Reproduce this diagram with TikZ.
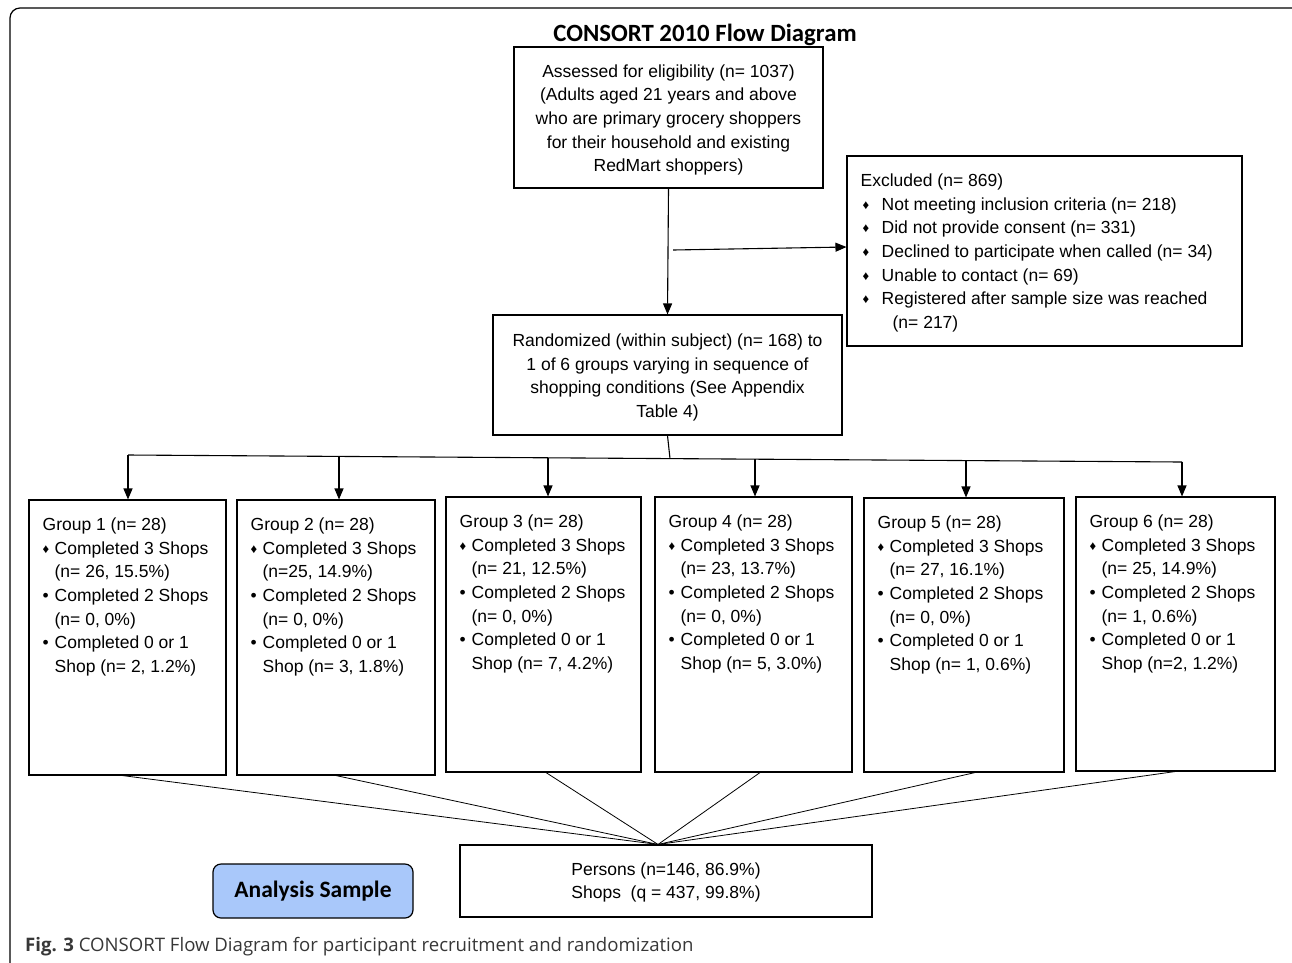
\documentclass[tikz,border=0pt]{standalone}
\usepackage{fontspec}
\setmainfont{Liberation Sans}
\newfontfamily\carlito{Carlito}
\newfontfamily\opensans{Open Sans}
\usetikzlibrary{arrows.meta,calc}
\newcommand\fs{\fontsize{17.5}{23.7}\selectfont}
\newcommand\dia{\makebox[12pt][l]{\raisebox{1pt}{\fontsize{13}{13}\selectfont ♦}}}
\newcommand\bul{\makebox[12pt][l]{•}}
\newcommand\ind{\hspace*{12pt}}
\newcommand\edia{\makebox[21pt][l]{\hspace{2pt}\raisebox{1pt}{\fontsize{13}{13}\selectfont ♦}}}
\tikzset{
  box/.style={draw, line width=1.1pt, inner sep=0pt, align=center, font=\fs},
  txt/.style={anchor=north west, inner sep=0pt, align=left, font=\fs},
  arr/.style={line width=1.1pt, -{Triangle[length=11pt,width=9pt]}},
  ln/.style={line width=1.1pt},
  thin/.style={line width=0.8pt}
}
\begin{document}
\begin{tikzpicture}[x=1pt,y=-1pt]
\useasboundingbox (0,0) rectangle (1292,962);
\clip (0,0) rectangle (1292,962);
% outer frame
\draw[line width=1.2pt, rounded corners=10pt] (10,8) rectangle (1312,985);
% title
\node[inner sep=0pt, font=\carlito\bfseries\fontsize{24.8}{26}\selectfont] (title) at (705,35) {CONSORT 2010 Flow Diagram};
% assessed
\node[box, minimum width=309pt, minimum height=141pt] (A) at (668.5,117.5) {};
\node[inner sep=0pt, align=center, font=\fs] (At) at (668.5,120)
  {Assessed for eligibility (n= 1037)\\(Adults aged 21 years and above\\who are primary grocery shoppers\\for their household and existing\\RedMart shoppers)};
% excluded
\node[box, minimum width=395pt, minimum height=190pt] (E) at (1044.5,251) {};
\node[txt] (Et) at ([shift={(14,18)}]E.north west)
  {Excluded (n= 869)\\
   \edia Not meeting inclusion criteria (n= 218)\\
   \edia Did not provide consent (n= 331)\\
   \edia Declined to participate when called (n= 34)\\
   \edia Unable to contact (n= 69)\\
   \edia Registered after sample size was reached\\
   \hspace*{32pt}(n= 217)};
% randomized
\node[box, minimum width=349pt, minimum height=120pt] (R) at (667.5,375) {};
\node[inner sep=0pt, align=center, font=\fs] (Rt) at (667.5,377.5)
  {Randomized (within subject) (n= 168) to\\1 of 6 groups varying in sequence of\\shopping conditions (See Appendix\\Table 4)};
\draw[arr] (A.south) -- (R.north);
\coordinate (ex) at (673,250);
\draw[arr] (ex) -- ([yshift=4pt]E.west);
% groups
\node[box, minimum width=197pt, minimum height=275pt] (G1) at (127.5,637.5) {};
\node[box, minimum width=198pt, minimum height=275pt] (G2) at (336,637.5) {};
\node[box, minimum width=195pt, minimum height=275pt] (G3) at (543.5,634.5) {};
\node[box, minimum width=197pt, minimum height=275pt] (G4) at (753.5,634.5) {};
\node[box, minimum width=200pt, minimum height=274pt] (G5) at (964,635) {};
\node[box, minimum width=199pt, minimum height=274pt] (G6) at (1175.5,634) {};
\node[txt] (G1t) at ([shift={(14,18)}]G1.north west)
  {Group 1 (n= 28)\\\dia Completed 3 Shops\\\ind(n= 26, 15.5\%)\\\bul Completed 2 Shops\\\ind(n= 0, 0\%)\\\bul Completed 0 or 1\\\ind Shop (n= 2, 1.2\%)};
\node[txt] (G2t) at ([shift={(14,18)}]G2.north west)
  {Group 2 (n= 28)\\\dia Completed 3 Shops\\\ind(n=25, 14.9\%)\\\bul Completed 2 Shops\\\ind(n= 0, 0\%)\\\bul Completed 0 or 1\\\ind Shop (n= 3, 1.8\%)};
\node[txt] (G3t) at ([shift={(14,18)}]G3.north west)
  {Group 3 (n= 28)\\\dia Completed 3 Shops\\\ind(n= 21, 12.5\%)\\\bul Completed 2 Shops\\\ind(n= 0, 0\%)\\\bul Completed 0 or 1\\\ind Shop (n= 7, 4.2\%)};
\node[txt] (G4t) at ([shift={(14,18)}]G4.north west)
  {Group 4 (n= 28)\\\dia Completed 3 Shops\\\ind(n= 23, 13.7\%)\\\bul Completed 2 Shops\\\ind(n= 0, 0\%)\\\bul Completed 0 or 1\\\ind Shop (n= 5, 3.0\%)};
\node[txt] (G5t) at ([shift={(14,18)}]G5.north west)
  {Group 5 (n= 28)\\\dia Completed 3 Shops\\\ind(n= 27, 16.1\%)\\\bul Completed 2 Shops\\\ind(n= 0, 0\%)\\\bul Completed 0 or 1\\\ind Shop (n= 1, 0.6\%)};
\node[txt] (G6t) at ([shift={(14,18)}]G6.north west)
  {Group 6 (n= 28)\\\dia Completed 3 Shops\\\ind(n= 25, 14.9\%)\\\bul Completed 2 Shops\\\ind(n= 1, 0.6\%)\\\bul Completed 0 or 1\\\ind Shop (n=2, 1.2\%)};
% distribution line
\coordinate (h1) at (128,455);
\coordinate (h6) at (1182,462);
\coordinate (rj) at (670,458.6);
\draw[ln] (R.south) -- (rj);
\draw[ln] (h1) -- (h6);
\coordinate (t1) at (128,455);
\coordinate (t2) at (339,456.4);
\coordinate (t3) at (548,457.8);
\coordinate (t4) at (755,459.2);
\coordinate (t5) at (966,460.6);
\coordinate (t6) at (1182,462);
\draw[arr] (t1) -- (t1 |- G1.north);
\draw[arr] (t2) -- (t2 |- G2.north);
\draw[arr] (t3) -- (t3 |- G3.north);
\draw[arr] (t4) -- (t4 |- G4.north);
\draw[arr] (t5) -- (t5 |- G5.north);
\draw[arr] (t6) -- (t6 |- G6.north);
% persons
\node[box, minimum width=412pt, minimum height=72pt] (P) at (666,881) {};
\node[inner sep=0pt, align=center, font=\fs] (Pt) at (666,882.5)
  {Persons (n=146, 86.9\%)\\Shops\ \ (q = 437, 99.8\%)};
\coordinate (pc) at ([xshift=-8pt]P.north);
\draw[thin] ([xshift=-5pt]G1.south) -- (pc);
\draw[thin] (G2.south) -- (pc);
\draw[thin] ([xshift=2.5pt]G3.south) -- (pc);
\draw[thin] ([xshift=6.5pt]G4.south) -- (pc);
\draw[thin] ([xshift=11pt]G5.south) -- (pc);
\draw[thin] ([xshift=-0.5pt]G6.south) -- (pc);
% analysis sample
\node[draw, line width=1.2pt, rounded corners=8pt, fill={rgb,255:red,169;green,200;blue,250},
      minimum width=200pt, minimum height=54pt, inner sep=0pt,
      font=\carlito\bfseries\fontsize{23.5}{25}\selectfont] (S) at (313,891) {Analysis Sample};
% caption
\node[anchor=base west, inner sep=0pt, text={rgb,255:red,55;green,55;blue,55},
      font=\opensans\fontsize{18.6}{20}\selectfont] (cap) at (25,951)
  {\textbf{Fig. 3} CONSORT Flow Diagram for participant recruitment and randomization};
\end{tikzpicture}
\end{document}
